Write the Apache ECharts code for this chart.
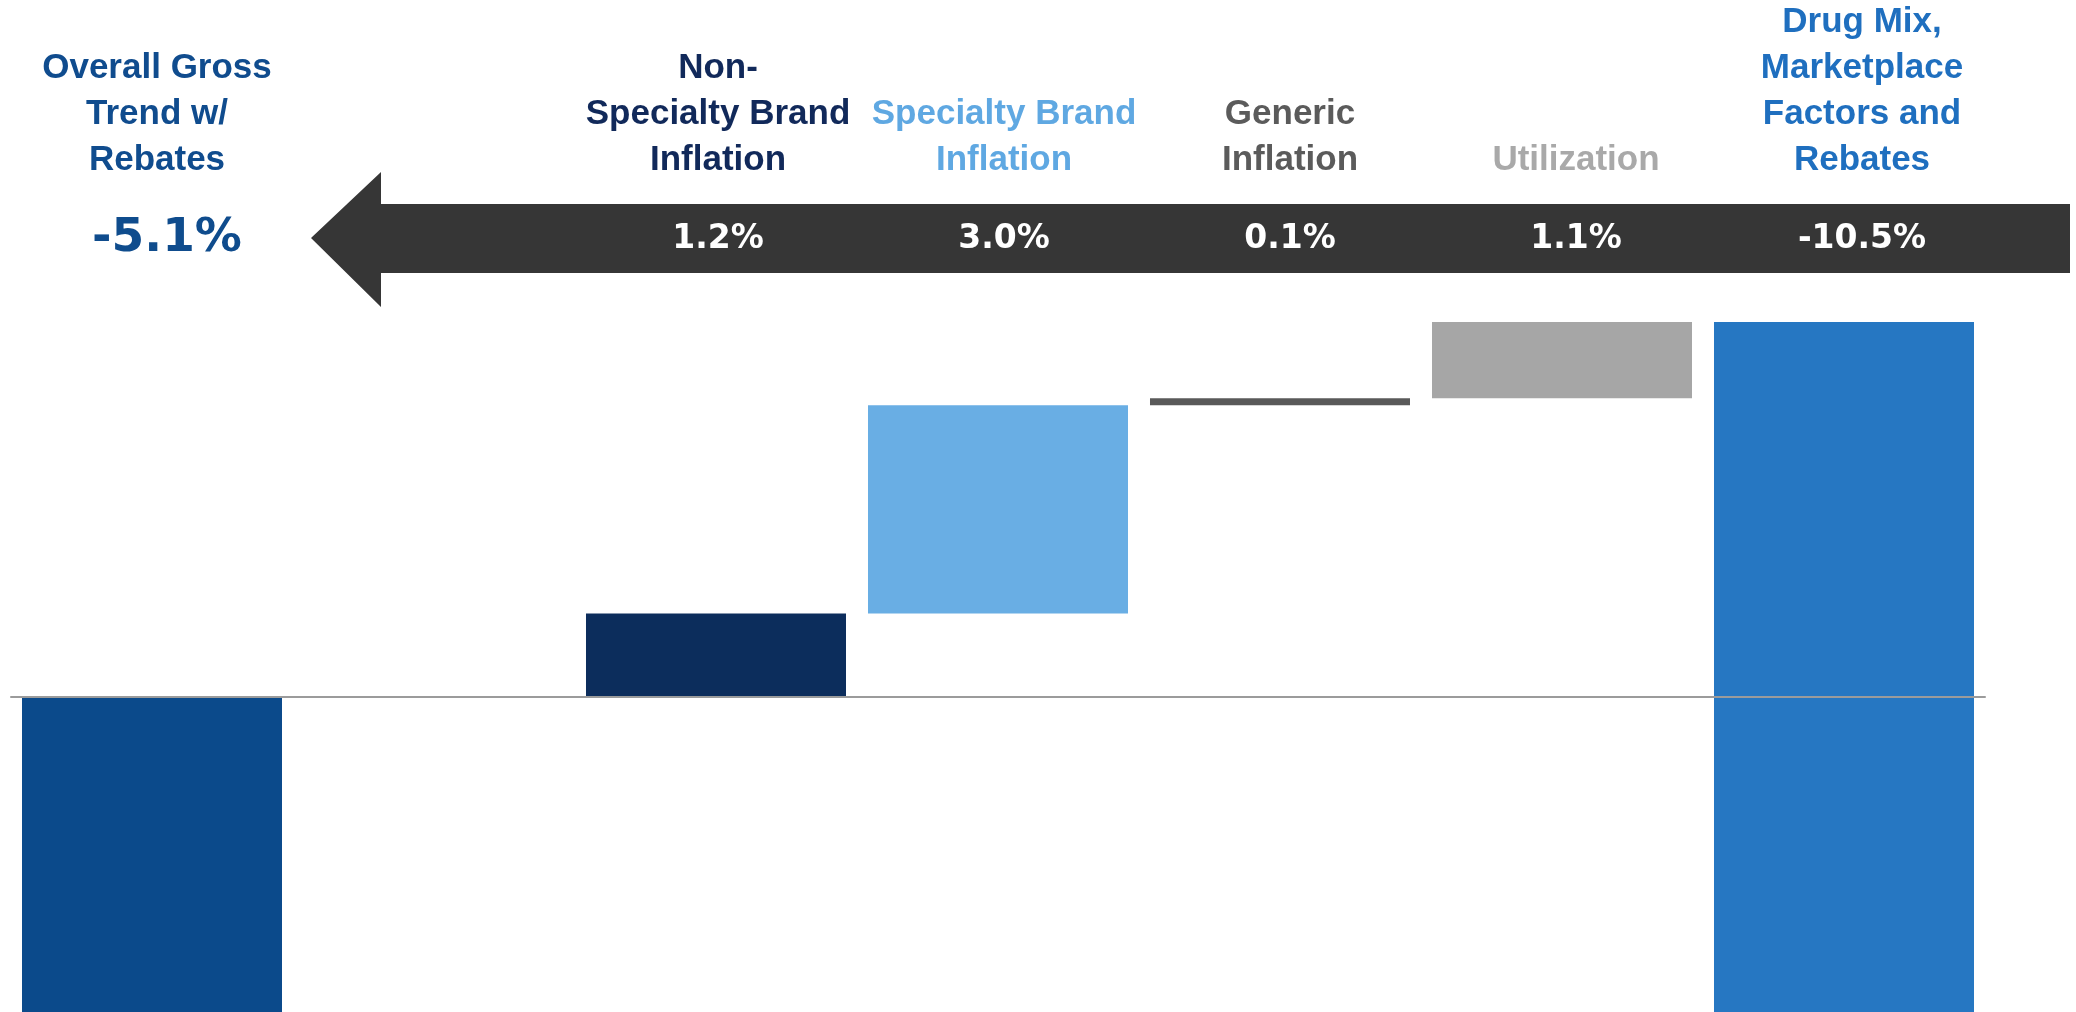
<!DOCTYPE html>
<html>
<head>
<meta charset="utf-8">
<script src="https://cdn.jsdelivr.net/npm/echarts@6/dist/echarts.min.js"></script>
<style>
  html, body { margin: 0; padding: 0; background: #ffffff; overflow: hidden; }
  /* the chart runs a little past the bottom of the window, so the two long bars are cut off */
  #chart { width: 2076px; height: 1051px; }
</style>
</head>
<body>
<div id="chart"></div>
<script>
// Overall trend (total bar) and the drivers that add up to it
const overallLabel = 'Overall Gross\nTrend w/\nRebates';
const overallValue = -5.1;
const stepLabels = [
  'Non-\nSpecialty Brand\nInflation',
  'Specialty Brand\nInflation',
  'Generic\nInflation',
  'Utilization',
  'Drug Mix,\nMarketplace\nFactors and\nRebates'
];
const stepValues = [1.2, 3.0, 0.1, 1.1, -10.5];
const barColors = ['#0b4a8b', '#0c2d5c', '#69aee4', '#595959', '#a6a6a6', '#2677c2'];
const labelColors = ['#104c8e', '#11295a', '#5fa8e2', '#5b5b5b', '#a9a9a9', '#1f6fbf'];

// axis slots: the total, an empty slot under the arrow head, then each driver
const categories = [overallLabel, ''].concat(stepLabels);
const values = [overallValue, null].concat(stepValues);
const fills = [barColors[0], null].concat(barColors.slice(1));
const textColors = [labelColors[0], '#000'].concat(labelColors.slice(1));

// waterfall ranges: [slot, from, to]
const ranges = [];
let running = 0;
values.forEach(function (v, i) {
  if (v === null) return;
  if (i === 0) { ranges.push([i, 0, v]); return; }
  ranges.push([i, running, running + v]);
  running += v;
});

const titleRich = {};
textColors.forEach(function (c, i) {
  titleRich['c' + i] = {
    color: c,
    fontFamily: 'Liberation Sans',
    fontWeight: 'bold',
    fontSize: 35,
    lineHeight: 46,
    padding: i === 0 ? [0, 0, 0, 22] : 0
  };
});

const chart = echarts.init(document.getElementById('chart'), null, { renderer: 'canvas' });

chart.setOption({
  animation: false,
  backgroundColor: '#ffffff',
  grid: [
    { left: 11, right: 91, top: 322, bottom: 0 },
    { left: 3, right: 71, top: 322, bottom: 0 }
  ],
  xAxis: [
    {
      gridIndex: 0,
      type: 'category',
      data: categories,
      z: 5,
      axisLine: { show: true, onZero: true, lineStyle: { color: '#9b9b9b', width: 2 } },
      axisTick: { show: false },
      axisLabel: { show: false },
      splitLine: { show: false }
    },
    {
      gridIndex: 1,
      type: 'category',
      position: 'top',
      data: categories,
      z: 10,
      axisLine: { show: false, onZero: false },
      axisTick: { show: false },
      splitLine: { show: false },
      axisLabel: {
        interval: 0,
        margin: 139,
        verticalAlign: 'bottom',
        formatter: function (value, index) {
          if (!value) return '';
          return value.split('\n').map(function (s) { return '{c' + index + '|' + s + '}'; }).join('\n');
        },
        rich: titleRich
      }
    },
    {
      gridIndex: 1,
      type: 'category',
      position: 'top',
      data: categories,
      z: 10,
      axisLine: { show: false, onZero: false },
      axisTick: { show: false },
      splitLine: { show: false },
      axisLabel: {
        interval: 0,
        margin: 83,
        verticalAlign: 'middle',
        formatter: function (value, index) {
          const v = values[index];
          if (v === null) return '';
          const txt = v.toFixed(1) + '%';
          return index === 0 ? '{total|' + txt + '}' : '{step|' + txt + '}';
        },
        rich: {
          total: {
            color: '#0f4c8d',
            fontFamily: 'DejaVu Sans',
            fontWeight: 'bold',
            fontSize: 47,
            padding: [0, 0, 0, 42]
          },
          step: {
            color: '#ffffff',
            fontFamily: 'DejaVu Sans',
            fontWeight: 'bold',
            fontSize: 33
          }
        }
      }
    }
  ],
  yAxis: [
    { gridIndex: 0, type: 'value', min: -5.1, max: 5.4, show: false, splitLine: { show: false } },
    { gridIndex: 1, type: 'value', min: 0, max: 1, show: false, splitLine: { show: false } }
  ],
  graphic: [
    {
      type: 'polygon',
      z: 1,
      shape: {
        points: [[311, 238], [381, 172], [381, 204], [2070, 204], [2070, 273], [381, 273], [381, 307]]
      },
      style: { fill: '#363636' }
    }
  ],
  series: [
    {
      type: 'custom',
      xAxisIndex: 0,
      yAxisIndex: 0,
      data: ranges,
      encode: { x: 0, y: [1, 2] },
      renderItem: function (params, api) {
        const i = api.value(0);
        const p0 = api.coord([i, api.value(1)]);
        const p1 = api.coord([i, api.value(2)]);
        const w = api.size([1, 0])[0] * 0.922;
        return {
          type: 'rect',
          shape: {
            x: p0[0] - w / 2,
            y: Math.min(p0[1], p1[1]),
            width: w,
            height: Math.abs(p1[1] - p0[1])
          },
          style: { fill: fills[i] }
        };
      }
    }
  ]
});
</script>
</body>
</html>
